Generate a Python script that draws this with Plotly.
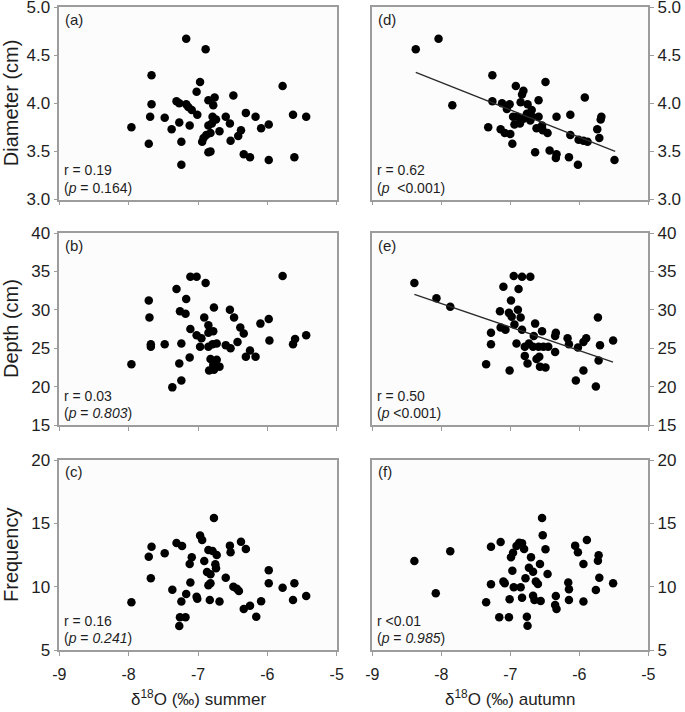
import plotly.graph_objects as go

# ---------------- data ----------------
# (a) diameter vs summer d18O
a_x = [-7.17, -6.89, -7.67, -6.97, -5.78, -7.02, -6.49, -6.76, -6.85, -7.31, -7.67, -7.27, -7.17,
       -6.78, -7.14, -7.09, -6.31, -7.69, -7.48, -7.01, -6.79, -6.60, -6.17, -5.63, -5.44, -6.74,
       -7.27, -6.54, -5.98, -7.96, -7.12, -6.85, -6.80, -6.09, -7.38, -6.69, -6.38, -6.82, -6.42,
       -6.88, -6.92, -6.53, -6.94, -7.71, -7.24, -6.85, -6.82, -6.34, -6.25, -5.98, -5.61, -7.24]
a_y = [4.67, 4.56, 4.29, 4.22, 4.18, 4.12, 4.08, 4.06, 4.03, 4.02, 3.99, 4.00, 3.99,
       3.98, 3.96, 3.93, 3.90, 3.86, 3.85, 3.88, 3.86, 3.86, 3.86, 3.88, 3.86, 3.83,
       3.80, 3.79, 3.78, 3.75, 3.77, 3.77, 3.79, 3.74, 3.73, 3.71, 3.72, 3.69, 3.66,
       3.67, 3.64, 3.61, 3.60, 3.58, 3.60, 3.49, 3.50, 3.47, 3.44, 3.41, 3.44, 3.36]

# (d) diameter vs autumn d18O
d_x = [-8.37, -8.04, -7.84, -7.26, -7.26, -7.32, -7.12, -7.01, -7.05, -6.92, -6.81, -6.83, -6.85,
       -6.75, -6.59, -6.49, -6.96, -6.90, -6.94, -6.81, -6.76, -6.69, -6.68, -6.71, -6.59, -6.54,
       -6.62, -6.53, -6.46, -6.33, -6.13, -5.92, -7.14, -7.08, -7.00, -6.97, -6.64, -6.43, -6.33,
       -6.34, -6.15, -6.02, -6.13, -6.01, -5.94, -5.88, -5.71, -5.74, -5.69, -5.68, -5.49, -6.86]
d_y = [4.56, 4.67, 3.98, 4.29, 4.02, 3.75, 4.00, 3.99, 3.94, 4.18, 4.13, 4.09, 4.01,
       3.99, 4.03, 4.22, 3.86, 3.86, 3.78, 3.84, 3.89, 3.93, 3.86, 3.82, 3.86, 3.77,
       3.74, 3.72, 3.69, 3.86, 3.88, 4.06, 3.73, 3.69, 3.68, 3.58, 3.49, 3.51, 3.47,
       3.43, 3.44, 3.36, 3.67, 3.62, 3.61, 3.60, 3.64, 3.73, 3.83, 3.86, 3.41, 3.79]
d_fit_x = [-8.37, -5.48]
d_fit_y = [4.32, 3.50]

# (b) depth vs summer d18O
b_x = [-7.11, -7.02, -6.89, -5.78, -7.31, -7.71, -7.17, -6.77, -7.26, -7.18, -6.54, -6.48, -6.91,
       -7.70, -5.98, -6.10, -6.85, -7.11, -6.78, -6.85, -6.39, -6.34, -7.02, -6.95, -5.44, -5.60,
       -5.63, -5.97, -6.43, -7.68, -7.68, -7.48, -7.24, -6.97, -6.85, -6.79, -6.73, -6.60, -6.53,
       -6.25, -6.31, -6.17, -7.12, -6.82, -6.73, -7.96, -7.27, -6.78, -6.69, -6.84, -6.77, -7.24, -7.37]
b_y = [34.3, 34.3, 33.5, 34.4, 32.7, 31.2, 31.4, 30.3, 29.8, 29.5, 30.0, 29.0, 29.0,
       29.0, 28.8, 28.2, 28.0, 27.5, 27.2, 27.0, 27.7, 26.9, 26.7, 26.3, 26.7, 26.2,
       25.5, 26.0, 25.8, 25.5, 25.2, 25.5, 25.6, 25.2, 25.2, 25.5, 25.6, 25.4, 25.0,
       24.7, 23.9, 23.9, 23.8, 23.6, 23.5, 22.9, 23.0, 22.8, 22.6, 22.1, 22.2, 20.8, 19.9]

# (e) depth vs autumn d18O
e_x = [-8.39, -8.07, -7.87, -6.95, -6.83, -6.71, -7.10, -6.88, -6.99, -7.15, -7.02, -6.89, -6.98,
       -6.85, -6.94, -5.73, -6.64, -7.14, -7.07, -6.83, -6.54, -7.28, -6.34, -6.35, -6.66, -6.17,
       -5.90, -5.94, -5.51, -6.15, -5.70, -7.28, -6.91, -6.73, -6.79, -6.67, -6.59, -6.52, -6.45,
       -6.02, -6.35, -6.79, -6.58, -6.62, -5.72, -7.35, -6.75, -6.57, -6.49, -7.01, -5.94, -6.05, -5.76]
e_y = [33.5, 31.5, 30.4, 34.4, 34.3, 34.3, 33.0, 32.7, 31.2, 29.8, 29.6, 30.0, 29.1,
       29.0, 28.1, 29.0, 28.2, 27.7, 27.4, 27.4, 27.2, 27.0, 27.0, 26.6, 26.6, 26.3,
       26.3, 25.8, 26.0, 25.5, 25.4, 25.5, 25.6, 25.6, 25.2, 25.2, 25.2, 25.2, 25.2,
       25.1, 24.5, 24.0, 23.9, 23.6, 23.4, 22.9, 23.0, 22.6, 22.5, 22.1, 22.1, 20.8, 20.0]
e_fit_x = [-8.39, -5.51]
e_fit_y = [32.0, 23.2]

# (c) frequency vs summer d18O
c_x = [-6.77, -6.97, -6.94, -7.31, -7.23, -7.67, -6.38, -6.54, -6.31, -6.53, -6.85, -6.79, -6.73,
       -7.48, -7.71, -7.09, -6.91, -7.12, -6.75, -6.74, -5.98, -6.87, -6.82, -6.60, -7.68, -7.11,
       -6.82, -6.85, -5.98, -5.61, -6.49, -6.44, -6.41, -5.78, -7.37, -7.17, -7.02, -7.01, -5.44,
       -6.83, -6.69, -7.24, -5.63, -6.09, -7.96, -6.25, -6.34, -6.16, -7.26, -7.18, -7.27]
c_y = [15.42, 14.03, 13.69, 13.45, 13.21, 13.16, 13.55, 13.24, 12.98, 12.71, 12.90, 12.82, 12.50,
       12.64, 12.37, 12.32, 12.03, 11.79, 11.77, 11.45, 11.29, 11.16, 10.98, 10.71, 10.66, 10.32,
       10.27, 10.11, 10.27, 10.27, 10.00, 9.84, 9.66, 9.92, 9.76, 9.42, 9.21, 9.05, 9.27,
       8.95, 8.82, 8.82, 8.95, 8.85, 8.77, 8.50, 8.24, 7.63, 7.58, 7.58, 6.90]

# (f) frequency vs autumn d18O
f_x = [-6.54, -6.53, -5.89, -7.14, -7.28, -7.87, -6.87, -6.83, -6.91, -6.80, -6.49, -6.06, -6.02,
       -6.96, -6.99, -6.70, -5.72, -5.73, -8.39, -6.57, -5.94, -6.73, -6.67, -6.97, -6.46, -6.78,
       -5.71, -6.63, -6.60, -6.16, -5.51, -7.28, -7.10, -7.08, -6.95, -6.85, -6.15, -5.76, -8.08,
       -6.67, -6.34, -6.83, -7.01, -6.65, -6.56, -6.15, -5.94, -7.35, -6.35, -6.33, -7.16, -7.02, -6.76, -6.75]
f_y = [15.42, 14.06, 13.69, 13.53, 13.16, 12.79, 13.47, 13.42, 13.21, 12.98, 12.95, 13.24, 12.71,
       12.68, 12.32, 12.32, 12.48, 12.05, 12.03, 11.79, 11.79, 11.50, 11.18, 11.26, 11.00, 10.66,
       10.71, 10.40, 10.21, 10.32, 10.27, 10.19, 10.40, 10.27, 9.95, 9.95, 9.79, 9.74, 9.48,
       9.29, 9.26, 9.13, 9.01, 8.95, 8.87, 8.95, 8.82, 8.77, 8.55, 8.24, 7.58, 7.58, 7.63, 6.92]

x_ticks = [-9, -8, -7, -6, -5]
row_ranges = [[3, 5], [15, 40], [5, 20]]
row_tickvals = [[3.0, 3.5, 4.0, 4.5, 5.0], [15, 20, 25, 30, 35, 40], [5, 10, 15, 20]]
row_ticktext = [['3.0', '3.5', '4.0', '4.5', '5.0'], ['15', '20', '25', '30', '35', '40'], ['5', '10', '15', '20']]
row_titles = ['Diameter (cm)', 'Depth (cm)', 'Frequency']
col_titles = ['\u03b4<sup>18</sup>O (\u2030) summer', '\u03b4<sup>18</sup>O (\u2030) autumn']

panels = [
    dict(tag='(a)', x=a_x, y=a_y, row=0, col=0, r='r = 0.19', p='(<i>p</i> = 0.164)', fx=None, fy=None),
    dict(tag='(b)', x=b_x, y=b_y, row=1, col=0, r='r = 0.03', p='(<i>p</i> = <i>0.803</i>)', fx=None, fy=None),
    dict(tag='(c)', x=c_x, y=c_y, row=2, col=0, r='r = 0.16', p='(<i>p</i> = <i>0.241</i>)', fx=None, fy=None),
    dict(tag='(d)', x=d_x, y=d_y, row=0, col=1, r='r = 0.62', p='(<i>p</i>  &lt;0.001)', fx=d_fit_x, fy=d_fit_y),
    dict(tag='(e)', x=e_x, y=e_y, row=1, col=1, r='r = 0.50', p='(<i>p</i> &lt;0.001)', fx=e_fit_x, fy=e_fit_y),
    dict(tag='(f)', x=f_x, y=f_y, row=2, col=1, r='r &lt;0.01', p='(<i>p</i> = <i>0.985</i>)', fx=None, fy=None),
]

# ---------------- layout geometry (pixels) ----------------
W, H = 685, 712
col_px = [(59.3, 336.7), (372.3, 648.3)]
row_px = [(7, 199.5), (233, 425), (460, 650)]
FONT = 'Liberation Sans, Arial, sans-serif'
TXT = '#1e1e1e'
GRAY = '#9c9c9c'

def fx_(p):
    return p / W

def fy_(p):
    return 1 - p / H

fig = go.Figure()
layout = dict(width=W, height=H, margin=dict(l=0, r=0, t=0, b=0),
              paper_bgcolor='white', plot_bgcolor='#fcfcfc', showlegend=False,
              font=dict(family=FONT, color=TXT, size=14))
annotations = []

for i, pn in enumerate(panels):
    n = i + 1
    xa = 'x' if n == 1 else f'x{n}'
    ya = 'y' if n == 1 else f'y{n}'
    fig.add_trace(go.Scatter(x=pn['x'], y=pn['y'], mode='markers', xaxis=xa, yaxis=ya,
                             marker=dict(size=8.5, color='black', line=dict(width=0)),
                             hoverinfo='skip'))
    if pn['fx'] is not None:
        fig.add_trace(go.Scatter(x=pn['fx'], y=pn['fy'], mode='lines', xaxis=xa, yaxis=ya,
                                 line=dict(color='#2a2a2a', width=1.3), hoverinfo='skip'))
    r, c = pn['row'], pn['col']
    x0, x1 = col_px[c]
    y0, y1 = row_px[r]
    layout['xaxis' if n == 1 else f'xaxis{n}'] = dict(
        domain=[fx_(x0), fx_(x1)], anchor=ya, range=[-9, -5],
        tickmode='array', tickvals=x_ticks, ticktext=[str(v) for v in x_ticks],
        showticklabels=(r == 2), ticks='outside', ticklen=4,
        tickcolor=GRAY, tickwidth=1, showline=True, linecolor=GRAY, linewidth=1.5,
        mirror=True, showgrid=False, zeroline=False, automargin=False,
        ticklabeloverflow='allow',
        ticklabelstandoff=5, tickfont=dict(size=16, color=TXT, family=FONT))
    layout['yaxis' if n == 1 else f'yaxis{n}'] = dict(
        domain=[fy_(y1), fy_(y0)], anchor=xa, range=row_ranges[r],
        tickmode='array', tickvals=row_tickvals[r], ticktext=row_ticktext[r],
        side='left' if c == 0 else 'right', ticks='outside', ticklen=4,
        tickcolor=GRAY, tickwidth=1, showline=True, linecolor=GRAY, linewidth=1.5,
        mirror=True, showgrid=False, zeroline=False, automargin=False,
        ticklabeloverflow='allow',
        tickfont=dict(size=17, color=TXT, family=FONT))
    # panel texts
    annotations.append(dict(text=pn['tag'], x=fx_(x0 + 4), y=fy_(y0 + 12), xref='paper', yref='paper',
                            xanchor='left', yanchor='middle', showarrow=False,
                            font=dict(size=15, color=TXT, family=FONT)))
    annotations.append(dict(text=pn['r'], x=fx_(x0 + 3), y=fy_(y1 - 29), xref='paper', yref='paper',
                            xanchor='left', yanchor='middle', showarrow=False,
                            font=dict(size=14, color=TXT, family=FONT)))
    annotations.append(dict(text=pn['p'], x=fx_(x0 + 3), y=fy_(y1 - 12), xref='paper', yref='paper',
                            xanchor='left', yanchor='middle', showarrow=False,
                            font=dict(size=14, color=TXT, family=FONT)))

# axis titles
for r, t in enumerate(row_titles):
    y0, y1 = row_px[r]
    annotations.append(dict(text=t, x=fx_(11), y=fy_((y0 + y1) / 2), xref='paper', yref='paper',
                            xanchor='center', yanchor='middle', textangle=-90, showarrow=False,
                            font=dict(size=20, color=TXT, family=FONT)))
for c, t in enumerate(col_titles):
    x0, x1 = col_px[c]
    annotations.append(dict(text=t, x=fx_((x0 + x1) / 2), y=fy_(698), xref='paper', yref='paper',
                            xanchor='center', yanchor='middle', showarrow=False,
                            font=dict(size=17, color=TXT, family=FONT)))

layout['annotations'] = annotations
fig.update_layout(**layout)
fig.write_html('out.html', config={'displayModeBar': False},
               post_script="document.body.style.margin='0';document.body.style.overflow='hidden';")
